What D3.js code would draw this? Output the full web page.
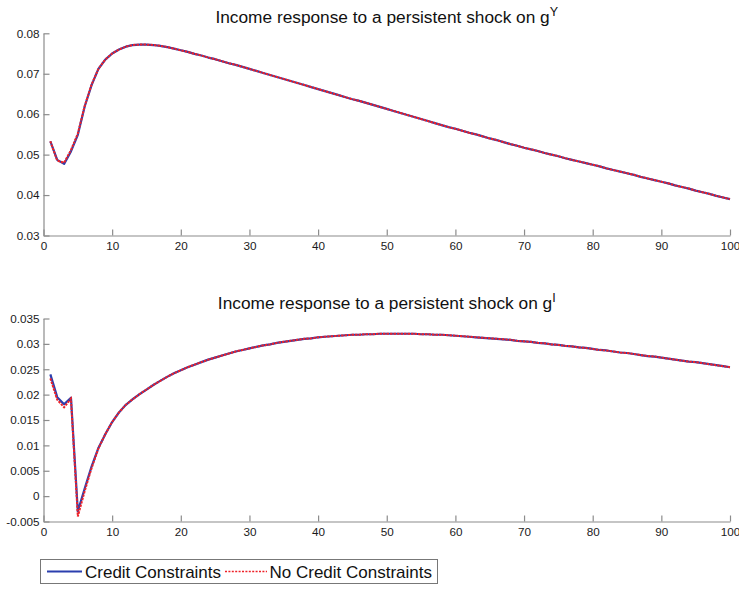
<!DOCTYPE html>
<html>
<head>
<meta charset="utf-8">
<script src="https://cdn.jsdelivr.net/npm/d3@7"></script>
<style>
  html, body { margin: 0; padding: 0; background: #fff; }
  svg { display: block; font-family: "Liberation Sans", Arial, sans-serif; }
</style>
</head>
<body>
<svg id="chart" width="739" height="590"></svg>
<script>
// Periods after the shock
const periods = d3.range(1, 101);

// Income response to a persistent shock on g^Y
const incomeGY_credit = [
  0.0533, 0.0487, 0.0477, 0.0508, 0.0549, 0.0619, 0.0672, 0.0712, 0.0735, 0.0750,
  0.0760, 0.0767, 0.0771, 0.0772, 0.0772, 0.0771, 0.0769, 0.0766, 0.0762, 0.0758,
  0.0754, 0.0749, 0.0745, 0.0740, 0.0736, 0.0731, 0.0726, 0.0722, 0.0717, 0.0712,
  0.0707, 0.0702, 0.0697, 0.0692, 0.0687, 0.0682, 0.0677, 0.0672, 0.0667, 0.0662,
  0.0657, 0.0652, 0.0647, 0.0642, 0.0637, 0.0633, 0.0628, 0.0623, 0.0618, 0.0613,
  0.0608, 0.0603, 0.0598, 0.0593, 0.0588, 0.0583, 0.0578, 0.0573, 0.0568, 0.0564,
  0.0559, 0.0554, 0.0550, 0.0545, 0.0540, 0.0536, 0.0531, 0.0526, 0.0522, 0.0517,
  0.0513, 0.0509, 0.0504, 0.0500, 0.0496, 0.0491, 0.0487, 0.0483, 0.0479, 0.0475,
  0.0471, 0.0466, 0.0462, 0.0458, 0.0454, 0.0450, 0.0445, 0.0441, 0.0437, 0.0433,
  0.0429, 0.0424, 0.0420, 0.0416, 0.0411, 0.0407, 0.0403, 0.0398, 0.0394, 0.0390
];
const incomeGY_noCredit = [
  0.0533, 0.0485, 0.0480, 0.0511, 0.0552, 0.0620, 0.0673, 0.0712, 0.0735, 0.0750,
  0.0760, 0.0767, 0.0771, 0.0772, 0.0772, 0.0771, 0.0769, 0.0766, 0.0762, 0.0758,
  0.0754, 0.0749, 0.0745, 0.0740, 0.0736, 0.0731, 0.0726, 0.0722, 0.0717, 0.0712,
  0.0707, 0.0702, 0.0697, 0.0692, 0.0687, 0.0682, 0.0677, 0.0672, 0.0667, 0.0662,
  0.0657, 0.0652, 0.0647, 0.0642, 0.0637, 0.0633, 0.0628, 0.0623, 0.0618, 0.0613,
  0.0608, 0.0603, 0.0598, 0.0593, 0.0588, 0.0583, 0.0578, 0.0573, 0.0568, 0.0564,
  0.0559, 0.0554, 0.0550, 0.0545, 0.0540, 0.0536, 0.0531, 0.0526, 0.0522, 0.0517,
  0.0513, 0.0509, 0.0504, 0.0500, 0.0496, 0.0491, 0.0487, 0.0483, 0.0479, 0.0475,
  0.0471, 0.0466, 0.0462, 0.0458, 0.0454, 0.0450, 0.0445, 0.0441, 0.0437, 0.0433,
  0.0429, 0.0424, 0.0420, 0.0416, 0.0411, 0.0407, 0.0403, 0.0398, 0.0394, 0.0390
];

// Income response to a persistent shock on g^I
const incomeGI_credit = [
  0.0240, 0.0195, 0.0181, 0.0194, -0.0030, 0.0015, 0.0058, 0.0095, 0.0122, 0.0146,
  0.0165, 0.0180, 0.0191, 0.0201, 0.0210, 0.0219, 0.0227, 0.0235, 0.0242, 0.0248,
  0.0254, 0.0259, 0.0264, 0.0269, 0.0273, 0.0277, 0.0281, 0.0285, 0.0288, 0.0291,
  0.0294, 0.0297, 0.0299, 0.0302, 0.0304, 0.0306, 0.0308, 0.0310, 0.0311, 0.0313,
  0.0314, 0.0315, 0.0316, 0.0317, 0.0318, 0.0318, 0.0319, 0.0319, 0.0320, 0.0320,
  0.0320, 0.0320, 0.0320, 0.0320, 0.0319, 0.0319, 0.0318, 0.0318, 0.0317, 0.0316,
  0.0315, 0.0314, 0.0313, 0.0312, 0.0311, 0.0310, 0.0309, 0.0308, 0.0306, 0.0305,
  0.0304, 0.0302, 0.0301, 0.0299, 0.0298, 0.0296, 0.0295, 0.0293, 0.0292, 0.0290,
  0.0288, 0.0287, 0.0285, 0.0283, 0.0282, 0.0280, 0.0278, 0.0276, 0.0275, 0.0273,
  0.0271, 0.0269, 0.0267, 0.0265, 0.0264, 0.0262, 0.0260, 0.0258, 0.0256, 0.0254
];
const incomeGI_noCredit = [
  0.0232, 0.0190, 0.0175, 0.0192, -0.0040, 0.0010, 0.0055, 0.0094, 0.0122, 0.0146,
  0.0165, 0.0180, 0.0191, 0.0201, 0.0210, 0.0219, 0.0227, 0.0235, 0.0242, 0.0248,
  0.0254, 0.0259, 0.0264, 0.0269, 0.0273, 0.0277, 0.0281, 0.0285, 0.0288, 0.0291,
  0.0294, 0.0297, 0.0299, 0.0302, 0.0304, 0.0306, 0.0308, 0.0310, 0.0311, 0.0313,
  0.0314, 0.0315, 0.0316, 0.0317, 0.0318, 0.0318, 0.0319, 0.0319, 0.0320, 0.0320,
  0.0320, 0.0320, 0.0320, 0.0320, 0.0319, 0.0319, 0.0318, 0.0318, 0.0317, 0.0316,
  0.0315, 0.0314, 0.0313, 0.0312, 0.0311, 0.0310, 0.0309, 0.0308, 0.0306, 0.0305,
  0.0304, 0.0302, 0.0301, 0.0299, 0.0298, 0.0296, 0.0295, 0.0293, 0.0292, 0.0290,
  0.0288, 0.0287, 0.0285, 0.0283, 0.0282, 0.0280, 0.0278, 0.0276, 0.0275, 0.0273,
  0.0271, 0.0269, 0.0267, 0.0265, 0.0264, 0.0262, 0.0260, 0.0258, 0.0256, 0.0254
];

// Axis ticks
const xTicks = [0, 10, 20, 30, 40, 50, 60, 70, 80, 90, 100];
const topYTicks = [0.03, 0.04, 0.05, 0.06, 0.07, 0.08];
const bottomYTicks = [-0.005, 0, 0.005, 0.01, 0.015, 0.02, 0.025, 0.03, 0.035];

// Titles and legend
const titleText = "Income response to a persistent shock on g";
const titleSup = ["Y", "I"];
const seriesNames = ["Credit Constraints", "No Credit Constraints"];

const BLUE = "#2b3fae";
const RED = "#ee2228";
const AXIS = "#8c8c8c";

const svg = d3.select("#chart");
const left = 43.5, right = 730;

const x = d3.scaleLinear().domain([0, 100]).range([left, right]);

const panels = [
  { yDomain: [0.03, 0.08], yRange: [235.5, 33.3], ticks: topYTicks,
    credit: incomeGY_credit, noCredit: incomeGY_noCredit, sup: titleSup[0], titleY: 23 },
  { yDomain: [-0.005, 0.035], yRange: [521.5, 318.5], ticks: bottomYTicks,
    credit: incomeGI_credit, noCredit: incomeGI_noCredit, sup: titleSup[1], titleY: 309 }
];

panels.forEach(p => {
  const y = d3.scaleLinear().domain(p.yDomain).range(p.yRange);
  const g = svg.append("g");

  const yAxis = d3.axisLeft(y).tickValues(p.ticks).tickFormat(d => String(d))
    .tickSizeInner(-6).tickSizeOuter(0).tickPadding(4);
  const xAxis = d3.axisBottom(x).tickValues(xTicks).tickFormat(d => String(d))
    .tickSizeInner(-6).tickSizeOuter(0).tickPadding(6);

  const ga = g.append("g").attr("transform", `translate(${left},0)`).call(yAxis);
  const gb = g.append("g").attr("transform", `translate(0,${p.yRange[0]})`).call(xAxis);
  [ga, gb].forEach(a => {
    a.select(".domain").attr("stroke", AXIS).attr("stroke-width", 1.2);
    a.selectAll(".tick line").attr("stroke", AXIS).attr("stroke-width", 1.2);
    a.selectAll(".tick text").attr("fill", "#1a1a1a")
      .style("font-size", "11.7px").style("font-family", "'Liberation Sans', Arial, sans-serif");
  });

  const line = d3.line().x((d, i) => x(periods[i])).y(d => y(d));

  g.append("path").datum(p.credit).attr("d", line)
    .attr("fill", "none").attr("stroke", BLUE).attr("stroke-width", 2.2)
    .attr("stroke-linejoin", "round");
  g.append("path").datum(p.noCredit).attr("d", line)
    .attr("fill", "none").attr("stroke", RED).attr("stroke-width", 2)
    .attr("stroke-dasharray", "2.4,1.1");

  const t = g.append("text")
    .attr("x", (left + right) / 2).attr("y", p.titleY)
    .attr("text-anchor", "middle")
    .style("font-size", "17.3px").attr("fill", "#111");
  t.append("tspan").text(titleText);
  t.append("tspan").attr("dy", -7).style("font-size", "12.5px").text(p.sup);
});

// Legend
const lg = svg.append("g");
lg.append("rect").attr("x", 40.5).attr("y", 559.5).attr("width", 397).attr("height", 24)
  .attr("fill", "#fff").attr("stroke", "#777").attr("stroke-width", 1);
lg.append("line").attr("x1", 47).attr("x2", 82).attr("y1", 571.5).attr("y2", 571.5)
  .attr("stroke", BLUE).attr("stroke-width", 2.2);
lg.append("text").attr("x", 85).attr("y", 577.5).style("font-size", "17px")
  .attr("fill", "#111").text(seriesNames[0]);
lg.append("line").attr("x1", 225).attr("x2", 267).attr("y1", 571.5).attr("y2", 571.5)
  .attr("stroke", RED).attr("stroke-width", 1.6).attr("stroke-dasharray", "2,1.4");
lg.append("text").attr("x", 269.5).attr("y", 577.5).style("font-size", "17px")
  .attr("fill", "#111").text(seriesNames[1]);
</script>
</body>
</html>
